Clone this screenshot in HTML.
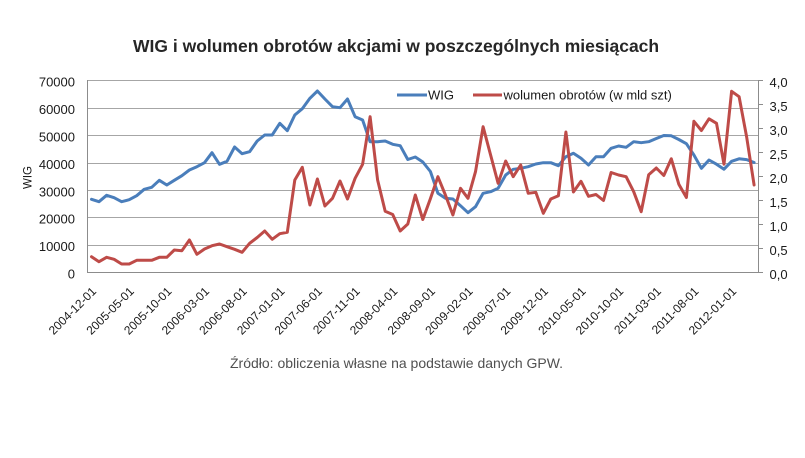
<!DOCTYPE html>
<html>
<head>
<meta charset="utf-8">
<style>
  html, body { margin:0; padding:0; background:#ffffff; }
  body { width:805px; height:458px; overflow:hidden; }
  svg { display:block; }
  text { font-family: "Liberation Sans", Arial, sans-serif; }
</style>
</head>
<body>
<svg width="805" height="458" viewBox="0 0 805 458" xmlns="http://www.w3.org/2000/svg">
  <rect x="0" y="0" width="805" height="458" fill="#ffffff"/>

  <!-- Title -->
  <text x="133" y="52" font-size="17.5" font-weight="bold" fill="#262626">WIG i wolumen obrotów akcjami w poszczególnych miesiącach</text>

  <!-- Gridlines -->
  <g stroke="#a6a6a6" stroke-width="1" shape-rendering="crispEdges">
    <line x1="87.5" y1="80.5" x2="758.5" y2="80.5"/>
    <line x1="87.5" y1="108.5" x2="758.5" y2="108.5"/>
    <line x1="87.5" y1="135.5" x2="758.5" y2="135.5"/>
    <line x1="87.5" y1="163.5" x2="758.5" y2="163.5"/>
    <line x1="87.5" y1="190.5" x2="758.5" y2="190.5"/>
    <line x1="87.5" y1="217.5" x2="758.5" y2="217.5"/>
    <line x1="87.5" y1="245.5" x2="758.5" y2="245.5"/>
  </g>

  <!-- Axes -->
  <g stroke="#8c8c8c" stroke-width="1" shape-rendering="crispEdges">
    <line x1="87.5" y1="80" x2="87.5" y2="273"/>
    <line x1="758.5" y1="80" x2="758.5" y2="273"/>
    <line x1="87.5" y1="272.5" x2="758.5" y2="272.5"/>
    <line x1="758.5" y1="80.5" x2="763" y2="80.5"/>
    <line x1="758.5" y1="104.5" x2="763" y2="104.5"/>
    <line x1="758.5" y1="128.5" x2="763" y2="128.5"/>
    <line x1="758.5" y1="152.5" x2="763" y2="152.5"/>
    <line x1="758.5" y1="176.5" x2="763" y2="176.5"/>
    <line x1="758.5" y1="200.5" x2="763" y2="200.5"/>
    <line x1="758.5" y1="224.5" x2="763" y2="224.5"/>
    <line x1="758.5" y1="248.5" x2="763" y2="248.5"/>
    <line x1="758.5" y1="272.5" x2="763" y2="272.5"/>
  </g>

  <!-- Left axis labels -->
  <g font-size="13" fill="#1a1a1a" text-anchor="end">
    <text x="75" y="86.5">70000</text>
    <text x="75" y="114">60000</text>
    <text x="75" y="141.5">50000</text>
    <text x="75" y="169">40000</text>
    <text x="75" y="196.3">30000</text>
    <text x="75" y="223.7">20000</text>
    <text x="75" y="251.2">10000</text>
    <text x="75" y="278.5">0</text>
  </g>

  <!-- Right axis labels -->
  <g font-size="13" fill="#1a1a1a">
    <text x="769.5" y="87">4,0</text>
    <text x="769.5" y="111">3,5</text>
    <text x="769.5" y="135">3,0</text>
    <text x="769.5" y="159">2,5</text>
    <text x="769.5" y="183">2,0</text>
    <text x="769.5" y="207">1,5</text>
    <text x="769.5" y="231">1,0</text>
    <text x="769.5" y="255">0,5</text>
    <text x="769.5" y="279">0,0</text>
  </g>

  <!-- Y axis title -->
  <text x="31.5" y="177.5" font-size="11.5" fill="#1a1a1a" text-anchor="middle" transform="rotate(-90 31.5 177.5)">WIG</text>

  <!-- X axis labels -->
  <g font-size="12" fill="#1a1a1a" text-anchor="end">
    <text x="97.0" y="292" transform="rotate(-45 97.0 292)">2004-12-01</text>
    <text x="134.7" y="292" transform="rotate(-45 134.7 292)">2005-05-01</text>
    <text x="172.3" y="292" transform="rotate(-45 172.3 292)">2005-10-01</text>
    <text x="210.0" y="292" transform="rotate(-45 210.0 292)">2006-03-01</text>
    <text x="247.6" y="292" transform="rotate(-45 247.6 292)">2006-08-01</text>
    <text x="285.3" y="292" transform="rotate(-45 285.3 292)">2007-01-01</text>
    <text x="322.9" y="292" transform="rotate(-45 322.9 292)">2007-06-01</text>
    <text x="360.6" y="292" transform="rotate(-45 360.6 292)">2007-11-01</text>
    <text x="398.2" y="292" transform="rotate(-45 398.2 292)">2008-04-01</text>
    <text x="435.9" y="292" transform="rotate(-45 435.9 292)">2008-09-01</text>
    <text x="473.5" y="292" transform="rotate(-45 473.5 292)">2009-02-01</text>
    <text x="511.2" y="292" transform="rotate(-45 511.2 292)">2009-07-01</text>
    <text x="548.8" y="292" transform="rotate(-45 548.8 292)">2009-12-01</text>
    <text x="586.5" y="292" transform="rotate(-45 586.5 292)">2010-05-01</text>
    <text x="624.1" y="292" transform="rotate(-45 624.1 292)">2010-10-01</text>
    <text x="661.8" y="292" transform="rotate(-45 661.8 292)">2011-03-01</text>
    <text x="699.4" y="292" transform="rotate(-45 699.4 292)">2011-08-01</text>
    <text x="737.1" y="292" transform="rotate(-45 737.1 292)">2012-01-01</text>
  </g>

  <!-- WIG series -->
  <polyline fill="none" stroke="#4a7ebb" stroke-width="3" stroke-linejoin="round" stroke-linecap="round"
    points="91.5,199.3 99.0,201.7 106.6,195.3 114.1,197.7 121.6,201.7 129.2,199.7 136.7,195.7 144.2,189.3 151.7,187.3 159.3,180.3 166.8,185 174.3,180.3 181.9,175.7 189.4,170 196.9,166.7 204.5,162.7 212.0,152.7 219.5,164.3 227.0,161.3 234.6,147 242.1,153.7 249.6,151.7 257.2,141 264.7,135 272.2,135 279.8,123.3 287.3,130.7 294.8,115 302.3,108.7 309.9,98.3 317.4,91 324.9,99 332.5,106.7 340.0,107.7 347.5,99 355.1,116.7 362.6,120 370.1,141.7 377.6,141.7 385.2,141 392.7,144.3 400.2,145.7 407.8,159.5 415.3,157 422.8,162 430.4,171.5 437.9,193.3 445.4,198.3 452.9,199 460.5,205.7 468.0,212.7 475.5,206.7 483.1,193.3 490.6,191.7 498.1,188.3 505.7,175 513.2,169.3 520.7,168.3 528.2,166.7 535.8,164 543.3,162.7 550.8,162.7 558.4,165.7 565.9,156.7 573.4,153.3 581.0,158.3 588.5,165 596.0,156.7 603.5,156.7 611.1,148.3 618.6,146 626.1,147.3 633.7,141.7 641.2,142.7 648.7,141.7 656.3,138.5 663.8,135.5 671.3,135.8 678.8,139.5 686.4,143.7 693.9,155 701.4,168.3 709.0,160 716.5,164.2 724.0,169.2 731.6,161.3 739.1,158.8 746.6,159.6 754.1,162.5"/>

  <!-- Volume series -->
  <polyline fill="none" stroke="#be4b48" stroke-width="3" stroke-linejoin="round" stroke-linecap="round"
    points="91.5,256.7 99.0,261.7 106.6,257.3 114.1,259.3 121.6,264 129.2,264 136.7,260.3 144.2,260.3 151.7,260.3 159.3,257.3 166.8,257.3 174.3,250 181.9,250.7 189.4,240 196.9,254.3 204.5,249 212.0,245.7 219.5,244 227.0,246.7 234.6,249.3 242.1,252.3 249.6,243.3 257.2,237.5 264.7,231 272.2,239.3 279.8,233.7 287.3,232.3 294.8,180 302.3,167.3 309.9,205 317.4,179 324.9,206 332.5,198.3 340.0,181 347.5,199 355.1,178.3 362.6,164.3 370.1,116.7 377.6,180 385.2,211.3 392.7,214.5 400.2,231 407.8,224 415.3,195 422.8,219.5 430.4,198.7 437.9,176.7 445.4,195 452.9,215 460.5,188.3 468.0,198.3 475.5,171.7 483.1,126.7 490.6,155 498.1,183.3 505.7,161 513.2,176.7 520.7,165 528.2,193.3 535.8,192.3 543.3,213.3 550.8,199 558.4,195.7 565.9,132 573.4,192 581.0,181.3 588.5,196.3 596.0,194.5 603.5,200.5 611.1,172.5 618.6,175 626.1,176.7 633.7,191.7 641.2,211.7 648.7,174.7 656.3,168 663.8,175.5 671.3,158.8 678.8,184.2 686.4,197.5 693.9,121.3 701.4,130.5 709.0,118.8 716.5,123.3 724.0,164.2 731.6,91.3 739.1,96.7 746.6,136.7 754.1,185"/>

  <!-- Legend -->
  <line x1="397" y1="95" x2="427" y2="95" stroke="#4a7ebb" stroke-width="3"/>
  <text x="428" y="99.5" font-size="13" fill="#1a1a1a">WIG</text>
  <line x1="473" y1="95" x2="502" y2="95" stroke="#be4b48" stroke-width="3"/>
  <text x="503.5" y="99.5" font-size="13" fill="#1a1a1a">wolumen obrotów (w mld szt)</text>

  <!-- Source -->
  <text x="230" y="368" font-size="14" fill="#505050">Źródło: obliczenia własne na podstawie danych GPW.</text>
</svg>
</body>
</html>
